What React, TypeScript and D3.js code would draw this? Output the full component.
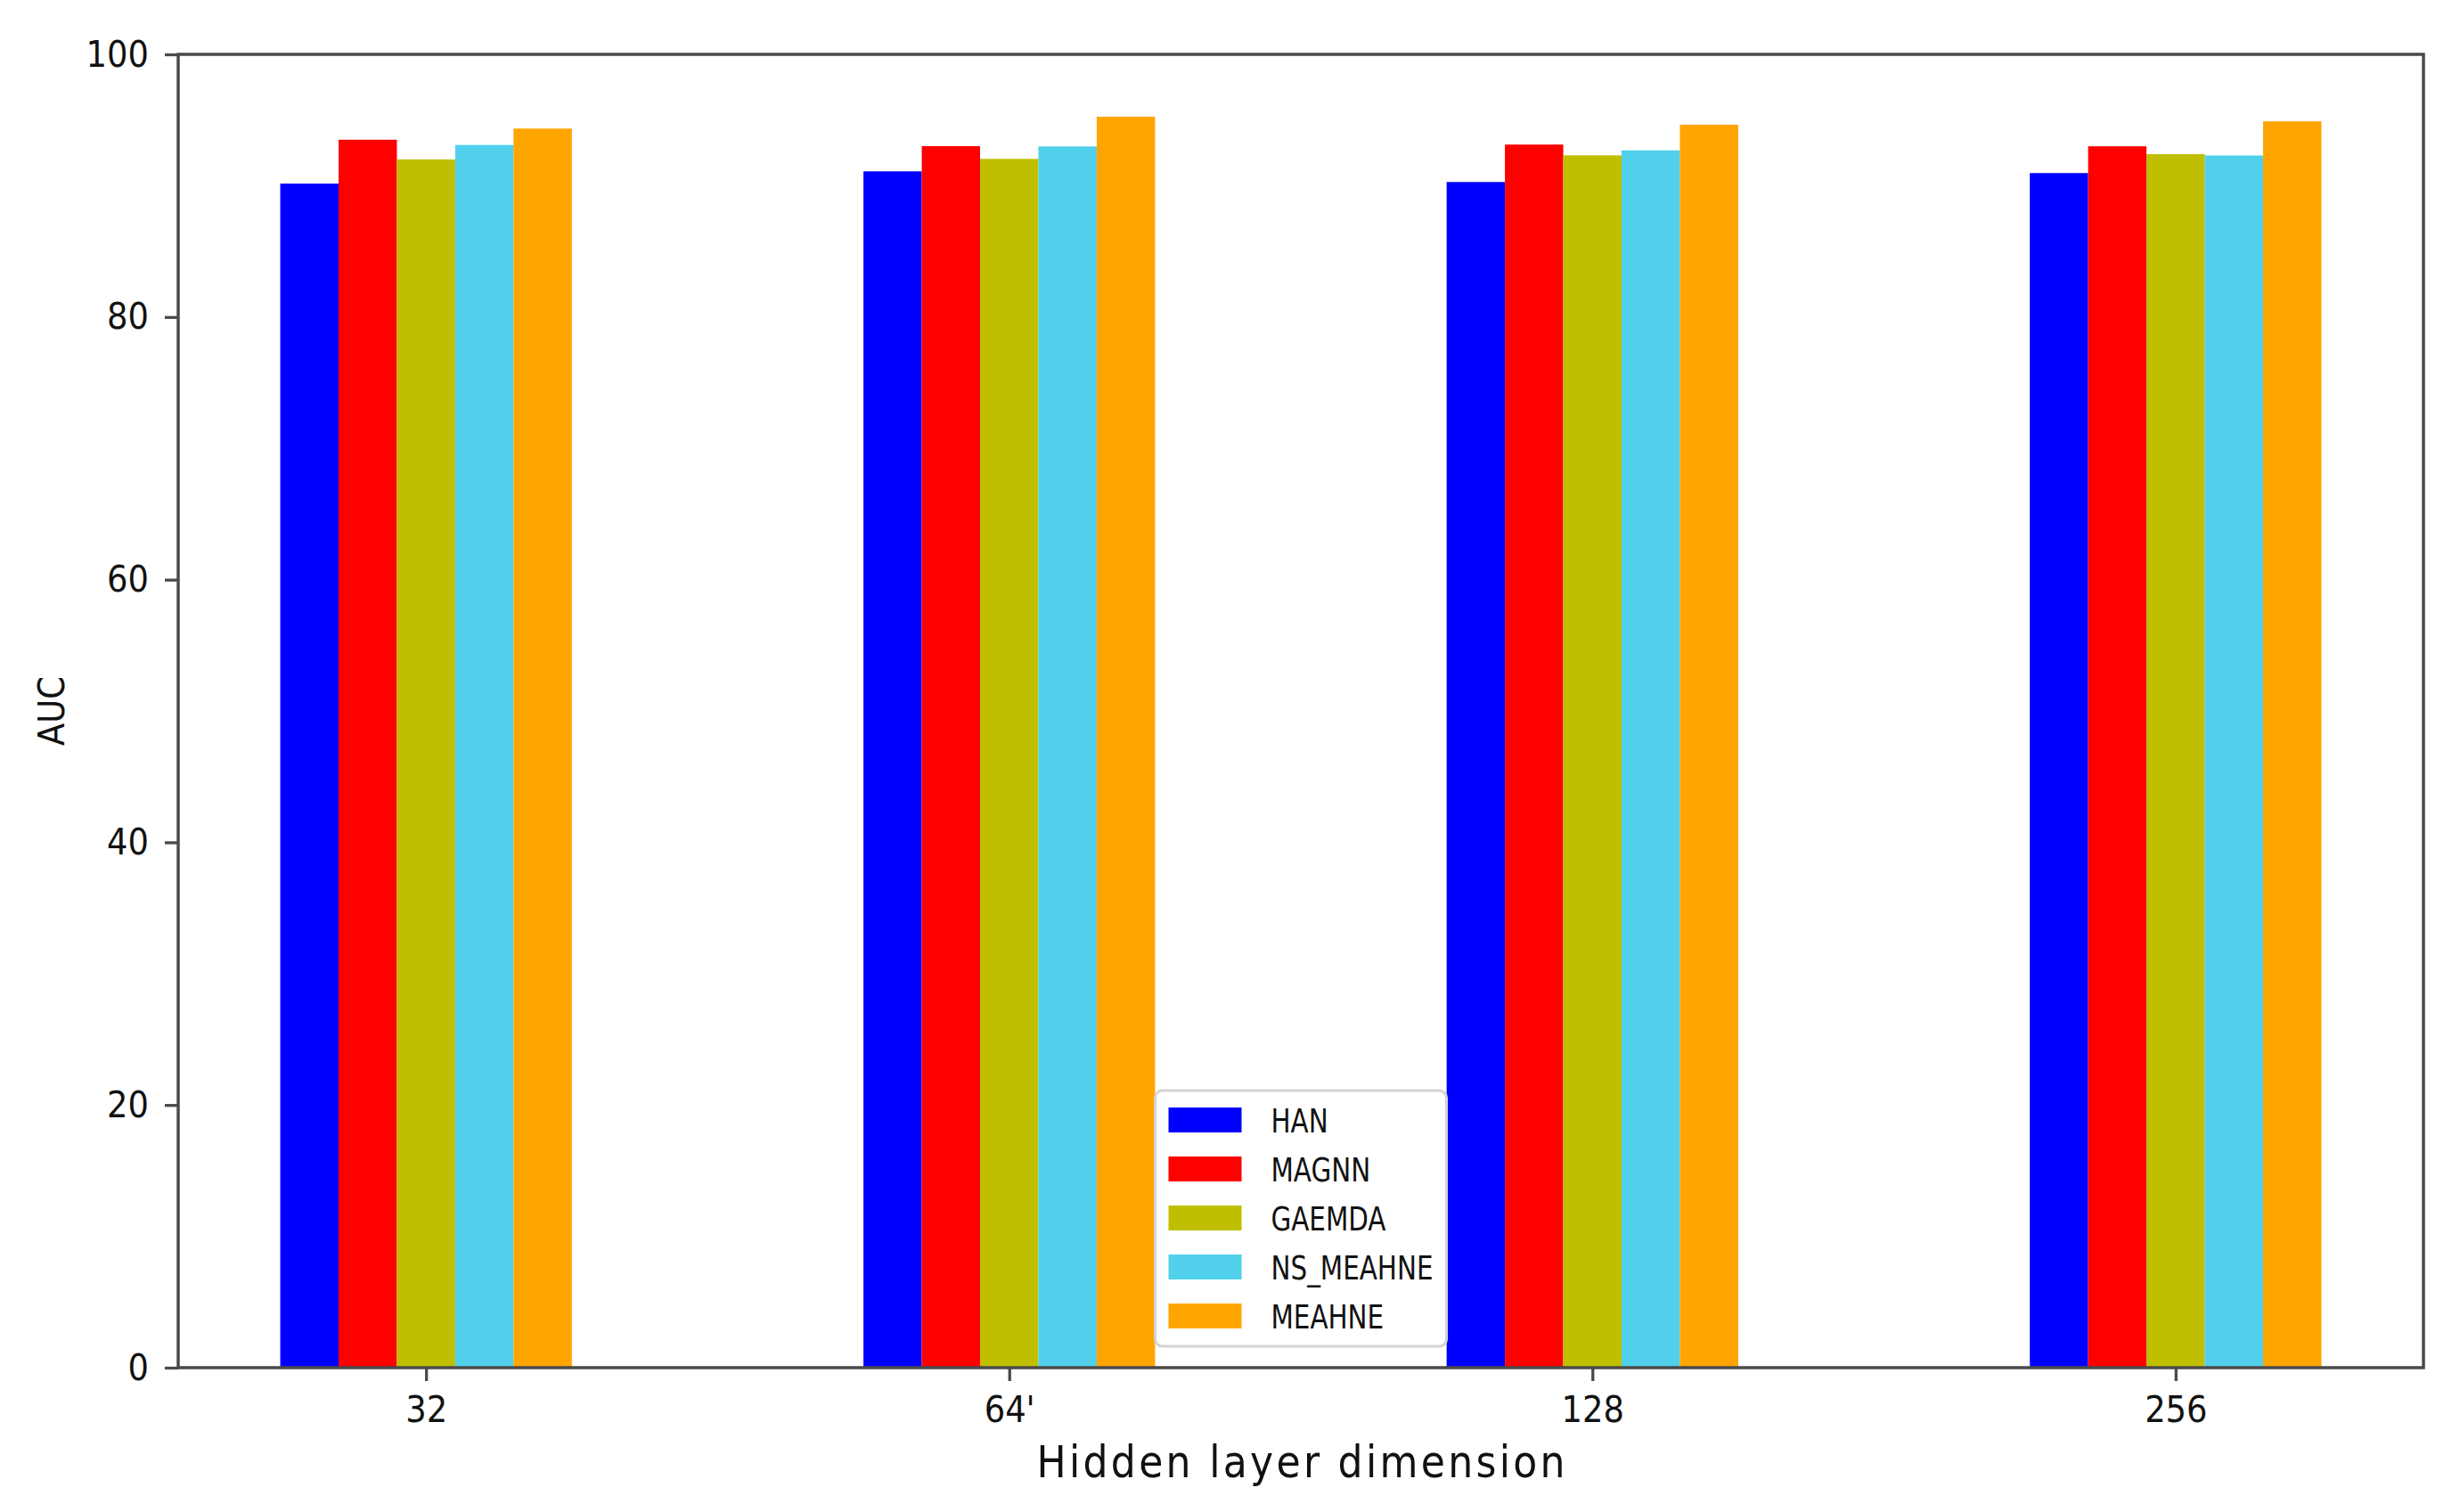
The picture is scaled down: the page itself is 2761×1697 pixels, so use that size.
import React, { useEffect, useRef } from 'react';
import * as d3 from 'd3';

const dimensions: string[] = ['32', "64'", '128', '256'];
const models: string[] = ['HAN', 'MAGNN', 'GAEMDA', 'NS_MEAHNE', 'MEAHNE'];
const colors: string[] = ['#0000ff', '#ff0000', '#bfbf00', '#50d0ea', '#ffa500'];

const hanAuc: number[] = [90.16, 91.09, 90.28, 90.96];
const magnnAuc: number[] = [93.5, 93.01, 93.13, 93.0];
const gaemdaAuc: number[] = [92.0, 92.04, 92.31, 92.4];
const nsMeahneAuc: number[] = [93.1, 92.99, 92.69, 92.3];
const meahneAuc: number[] = [94.35, 95.25, 94.64, 94.9];

const yTicks: number[] = [0, 20, 40, 60, 80, 100];

const App: React.FC = () => {
    const containerRef = useRef<HTMLDivElement>(null);

    useEffect(() => {
        document.body.style.margin = '0';
        if (!containerRef.current) return;
        drawChart();
    }, []);

    const drawChart = () => {
        const totalW = 2761;
        const totalH = 1697;
        const margin = { top: 61, right: 41, bottom: 162, left: 200 };
        const width = totalW - margin.left - margin.right;
        const height = totalH - margin.top - margin.bottom;
        const font = "'Liberation Sans Narrow', 'Arial Narrow', 'DejaVu Sans Condensed', sans-serif";
        const axisColor = '#4a4a4a';

        const series = [hanAuc, magnnAuc, gaemdaAuc, nsMeahneAuc, meahneAuc];
        const barW = 0.1;

        const container = d3.select(containerRef.current);
        container.selectAll('*').remove();

        const root = container
            .append('svg')
            .attr('width', totalW)
            .attr('height', totalH)
            .style('display', 'block')
            .style('background', '#fff');

        const svg = root.append('g').attr('transform', `translate(${margin.left}, ${margin.top})`);

        // matplotlib-like limits: bars from -0.05 to 3.45 plus 5% padding
        const x = d3.scaleLinear().domain([-0.225, 3.625]).range([0, width]);
        const y = d3.scaleLinear().domain([0, 100]).range([height, 0]);

        series.forEach((vals, k) => {
            svg.append('g')
                .selectAll('rect')
                .data(vals)
                .enter()
                .append('rect')
                .attr('x', (_d: number, i: number) => x(i + k * barW - barW / 2))
                .attr('width', x(barW) - x(0))
                .attr('y', (d: number) => y(d))
                .attr('height', (d: number) => height - y(d))
                .attr('fill', colors[k]);
        });

        // x axis
        const xAxis = svg.append('g')
            .attr('transform', `translate(0, ${height})`)
            .call(
                d3.axisBottom(x)
                    .tickValues(dimensions.map((_d, i) => i + 2 * barW))
                    .tickFormat((_d, i) => dimensions[i])
                    .tickSize(15)
                    .tickPadding(17)
            );
        xAxis.select('.domain').remove();
        xAxis.selectAll('line').attr('stroke', axisColor).attr('stroke-width', 3.3);
        xAxis.selectAll('text').style('font-family', font).style('font-size', '41px').attr('fill', '#111');

        // y axis
        const yAxis = svg.append('g')
            .call(d3.axisLeft(y).tickValues(yTicks).tickSize(15).tickPadding(18));
        yAxis.select('.domain').remove();
        yAxis.selectAll('line').attr('stroke', axisColor).attr('stroke-width', 3.3);
        yAxis.selectAll('text').style('font-family', font).style('font-size', '41px').attr('fill', '#111');

        // frame
        svg.append('rect')
            .attr('x', 0)
            .attr('y', 0)
            .attr('width', width)
            .attr('height', height)
            .attr('fill', 'none')
            .attr('stroke', axisColor)
            .attr('stroke-width', 3.5);

        // axis labels
        svg.append('text')
            .attr('x', width / 2)
            .attr('y', height + 123)
            .attr('text-anchor', 'middle')
            .attr('textLength', 593)
            .attr('lengthAdjust', 'spacing')
            .style('font-family', font)
            .style('font-size', '49px')
            .attr('fill', '#111')
            .text('Hidden layer dimension');

        svg.append('text')
            .attr('transform', `translate(${72 - margin.left}, ${height / 2}) rotate(-90)`)
            .attr('text-anchor', 'middle')
            .style('font-family', font)
            .style('font-size', '41px')
            .attr('fill', '#111')
            .text('AUC');

        // legend, lower center
        const legW = 327;
        const legH = 287;
        const legX = width / 2 - legW / 2;
        const legY = height - 24 - legH;
        const rowH = 55;
        const legend = svg.append('g').attr('transform', `translate(${legX}, ${legY})`);
        legend.append('rect')
            .attr('width', legW)
            .attr('height', legH)
            .attr('rx', 8)
            .attr('fill', '#fff')
            .attr('fill-opacity', 0.8)
            .attr('stroke', '#d3d3d3')
            .attr('stroke-width', 3);
        const rows = legend.selectAll('g.row')
            .data(models)
            .enter()
            .append('g')
            .attr('class', 'row')
            .attr('transform', (_d: string, i: number) => `translate(0, ${33 + i * rowH})`);
        rows.append('rect')
            .attr('x', 15)
            .attr('y', -14)
            .attr('width', 82)
            .attr('height', 28)
            .attr('fill', (_d: string, i: number) => colors[i]);
        rows.append('text')
            .attr('transform', 'translate(130, 0) scale(0.86, 1)')
            .attr('dy', '0.36em')
            .style('font-family', font)
            .style('font-size', '38px')
            .attr('fill', '#111')
            .text((d: string) => d);
    };

    return <div ref={containerRef}></div>;
};

export default App;
